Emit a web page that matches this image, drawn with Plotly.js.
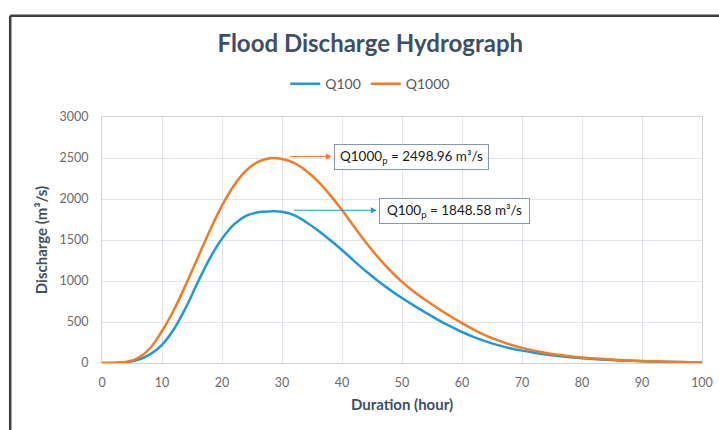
<!DOCTYPE html>
<html>
<head>
<meta charset="utf-8">
<script src="https://cdn.plot.ly/plotly-3.0.1.min.js"></script>
<style>html,body{margin:0;padding:0;background:#fff;}#chart{width:719px;height:430px;}</style>
</head>
<body>
<div id="chart"></div>
<script>
const hours = [0,2,4,6,8,10,12,14,16,18,20,22,24,26,28,30,32,34,36,38,40,42,44,46,48,50,52,54,56,58,60,62,64,66,68,70,72,74,76,78,80,82,84,86,88,90,92,94,96,98,100];
const q100 = [0,1,8,38,105,222,415,680,990,1280,1515,1690,1795,1838,1849,1845,1803,1720,1615,1500,1378,1246,1118,1000,892,792,700,612,527,449,378,316,263,218,181,151,126,104,86,71,58,48,39,32,26,21,17,14,11,9,7];
const q1000 = [0,1,12,60,180,390,650,960,1290,1620,1920,2165,2345,2452,2497,2488,2440,2345,2215,2050,1865,1665,1470,1290,1130,990,870,765,665,573,486,405,335,275,225,184,150,123,101,83,68,56,46,38,31,25,20,16,13,10,8];
const seriesNames = ["Q100","Q1000"];
const peakLabels = ["Q100<sub>p</sub> = 1848.58 m³/s","Q1000<sub>p</sub> = 2498.96 m³/s"];
const xTicks = [0,10,20,30,40,50,60,70,80,90,100];
const yTicks = [0,500,1000,1500,2000,2500,3000];

const blue = '#1f9ad6', orange = '#f57a22';
const tickFont = {family:'Lato, Open Sans, sans-serif', size:12.5, color:'#6b6b6b'};
const titleColor = '#3d4f66';

const traces = [
  {x:hours, y:q100, name:seriesNames[0], type:'scatter', mode:'lines', line:{color:blue, width:2.5, shape:'spline', smoothing:1.1}},
  {x:hours, y:q1000, name:seriesNames[1], type:'scatter', mode:'lines', line:{color:orange, width:2.5, shape:'spline', smoothing:1.1}}
];

const annFont = {family:'Lato, Open Sans, sans-serif', size:13.5, color:'#1a1a1a'};
const layout = {
  width:719, height:430,
  margin:{l:102, r:17, t:117, b:67},
  paper_bgcolor:'#fff', plot_bgcolor:'#fff',
  title:{text:'<b>Flood Discharge Hydrograph</b>', font:{family:'Lato, Open Sans, sans-serif', size:24, color:titleColor},
         x:0.515, xref:'container', xanchor:'center', y:1-44/430, yref:'container', yanchor:'middle'},
  showlegend:true,
  legend:{orientation:'h', x:0.447, xanchor:'center', y:1.134, yanchor:'middle', font:{family:'Lato, Open Sans, sans-serif', size:14, color:'#595959'}, itemwidth:30, bgcolor:'rgba(0,0,0,0)'},
  xaxis:{range:[0,100], tickvals:xTicks, ticktext:xTicks.map(String), showgrid:true, gridcolor:'#dfe4ea', gridwidth:1,
         showline:true, linecolor:'#cfd3d8', mirror:true, zeroline:false, ticks:'', ticklabelstandoff:8, tickfont:tickFont,
         title:{text:'<b>Duration (hour)</b>', font:{family:'Lato, Open Sans, sans-serif', size:15, color:titleColor}, standoff:10}, fixedrange:true},
  yaxis:{range:[0,3000], tickvals:yTicks, ticktext:yTicks.map(String), showgrid:true, gridcolor:'#dfe4ea', gridwidth:1,
         showline:true, linecolor:'#cfd3d8', mirror:true, zeroline:false, ticks:'', ticklabelstandoff:10, tickfont:tickFont,
         title:{text:'<b>Discharge (m³/s)</b>', font:{family:'Lato, Open Sans, sans-serif', size:15, color:titleColor}, standoff:8}, fixedrange:true},
  shapes:[
    {type:'line', xref:'paper', yref:'paper', x0:-0.153, x1:1.05, y0:1.412, y1:1.412, line:{color:'#404040', width:2.5}},
    {type:'line', xref:'paper', yref:'paper', x0:-0.153, x1:-0.153, y0:1.412, y1:-0.35, line:{color:'#404040', width:2.5}}
  ],
  annotations:[
    {x:38.3, y:2518, ax:31.1, ay:2518, axref:'x', ayref:'y', xref:'x', yref:'y', text:'', showarrow:true, arrowhead:2, arrowsize:1, arrowwidth:1.2, arrowcolor:orange},
    {x:45.8, y:1863, ax:31.7, ay:1863, axref:'x', ayref:'y', xref:'x', yref:'y', text:'', showarrow:true, arrowhead:2, arrowsize:1, arrowwidth:1.2, arrowcolor:blue},
    {x:51.6, y:2512, xref:'x', yref:'y', text:peakLabels[1], showarrow:false, font:annFont, bordercolor:'#8497b0', borderwidth:1, borderpad:3, bgcolor:'#fff', width:147, height:18},
    {x:58.7, y:1855, xref:'x', yref:'y', text:peakLabels[0], showarrow:false, font:annFont, bordercolor:'#8497b0', borderwidth:1, borderpad:3, bgcolor:'#fff', width:143, height:18}
  ]
};
Plotly.newPlot('chart', traces, layout, {displayModeBar:false, staticPlot:true});
</script>
</body>
</html>
